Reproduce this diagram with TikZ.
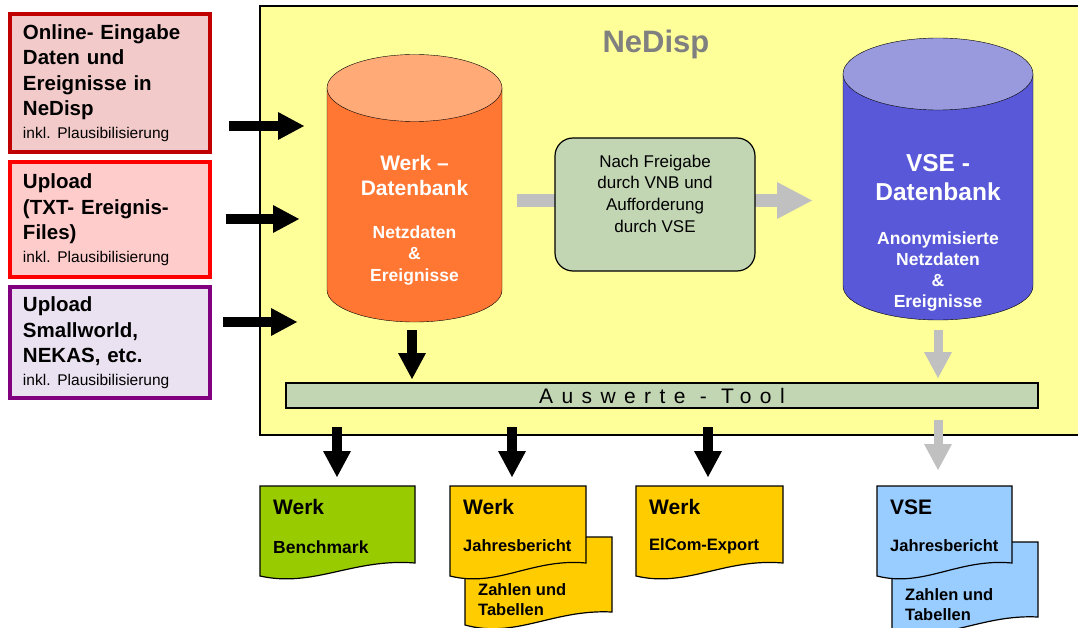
\documentclass[tikz,border=0pt]{standalone}
\usepackage{fontspec}
\setmainfont{Liberation Sans}
\usetikzlibrary{arrows.meta}
\frenchspacing

\definecolor{onlineframe}{RGB}{192,0,0}
\definecolor{onlinefill}{RGB}{242,202,202}
\definecolor{txtframe}{RGB}{255,0,0}
\definecolor{txtfill}{RGB}{255,204,204}
\definecolor{swframe}{RGB}{128,0,128}
\definecolor{swfill}{RGB}{234,226,240}
\definecolor{nedispfill}{RGB}{255,255,153}
\definecolor{werkbody}{RGB}{255,119,51}
\definecolor{werktop}{RGB}{255,170,119}
\definecolor{vsebody}{RGB}{88,88,216}
\definecolor{vsetop}{RGB}{153,153,221}
\definecolor{toolfill}{RGB}{194,214,180}
\definecolor{arrgray}{RGB}{192,192,192}
\definecolor{docgreen}{RGB}{153,204,0}
\definecolor{docyellow}{RGB}{255,204,0}
\definecolor{docblue}{RGB}{153,204,255}

\begin{document}
\begin{tikzpicture}[x=1pt,y=-1pt,
	blk/.style={line width=10pt,-{Triangle[length=26pt,width=28pt,line width=0pt]}},
	gry/.style={blk,draw=arrgray,line width=9pt},
	inbox/.style={draw,line width=4pt,minimum width=200pt,text width=174pt,inner sep=0pt,align=left,font=\fontsize{20.5}{25.5}\selectfont\bfseries},
	doc/.style={draw,line width=1.2pt},
	dochead/.style={anchor=west,inner sep=0pt,font=\fontsize{21}{25}\selectfont\bfseries},
	docsub/.style={anchor=west,inner sep=0pt,align=left,font=\fontsize{16.5}{20}\selectfont\bfseries},
	dbtext/.style={text=white,align=center,inner sep=0pt}]

	\useasboundingbox (0,0) rectangle (1078,628);

	\draw[fill=nedispfill,line width=1.5pt] (260,6) rectangle (1090,435);
	\node[text=gray,font=\fontsize{31}{35}\selectfont\bfseries] (nedisp) at (656,44) {NeDisp};

	\node[inbox,draw=onlineframe,fill=onlinefill,minimum height=138pt] (online) at (110,83) {Online- Eingabe\\Daten und\\Ereignisse in\\NeDisp\\[-3pt]{\fontsize{15.5}{19}\selectfont\mdseries inkl. Plausibilisierung}};
	\node[inbox,draw=txtframe,fill=txtfill,minimum height=115pt] (txtup) at (110,219.5) {Upload\\(TXT- Ereignis-\\Files)\\[-3pt]{\fontsize{15.5}{19}\selectfont\mdseries inkl. Plausibilisierung}};
	\node[inbox,draw=swframe,fill=swfill,minimum height=111pt] (swup) at (110,342.5) {Upload\\Smallworld,\\NEKAS, etc.\\[-3pt]{\fontsize{15.5}{19}\selectfont\mdseries inkl. Plausibilisierung}};

	\coordinate (in1) at (229,126);
	\coordinate (in2) at (226,219);
	\coordinate (in3) at (223,322);
	\draw[blk] (in1) -- (304,126);
	\draw[blk] (in2) -- (299,219);
	\draw[blk] (in3) -- (297,322);

	\draw[fill=werkbody] (327,88) -- (327,290) arc (180:0:87.5 and 32) -- (502,88) -- cycle;
	\draw[fill=werktop] (414.5,88) ellipse (87.5 and 33.5);
	\node[dbtext,font=\fontsize{21}{25}\selectfont\bfseries] (werkdb) at (414.5,175.5) {Werk --\\Datenbank};
	\node[dbtext,font=\fontsize{17.5}{21.5}\selectfont\bfseries] (werkinhalt) at (414.5,255.5) {Netzdaten\\\&\\Ereignisse};

	\draw[fill=vsebody] (843,74) -- (843,286) arc (180:0:95 and 34) -- (1033,74) -- cycle;
	\draw[fill=vsetop] (938,74) ellipse (95 and 36);
	\node[dbtext,font=\fontsize{24.5}{29}\selectfont\bfseries] (vsedb) at (938,177.5) {VSE -\\Datenbank};
	\node[dbtext,font=\fontsize{17.5}{21}\selectfont\bfseries] (vseinhalt) at (938,271.5) {Anonymisierte\\Netzdaten\\\&\\Ereignisse};

	\coordinate (fg1) at (517,200.5);
	\coordinate (fg2) at (812,200.5);
	\draw[draw=arrgray,line width=13pt,-{Triangle[length=35pt,width=37pt,line width=0pt]}] (fg1) -- (fg2);
	\node[draw,line width=1.2pt,fill=toolfill,rounded corners=18pt,minimum width=200pt,minimum height=133pt,align=center,font=\fontsize{17}{21.7}\selectfont] (freigabe) at (655,204.5) {Nach Freigabe\\durch VNB und\\Aufforderung\\durch VSE\\\mbox{}};

	\node[draw,line width=1.5pt,fill=toolfill,minimum width=752pt,minimum height=25pt,inner sep=0pt,font=\fontsize{21}{25}\selectfont\addfontfeature{LetterSpace=40}] (tool) at (662,395.5) {Auswerte - Tool};

	\coordinate (wd) at (412,330);
	\coordinate (vd) at (938,330);
	\draw[blk] (wd) -- (412,379);
	\draw[gry] (vd) -- (938,378);

	\coordinate (o1) at (337,427);
	\coordinate (o2) at (512,427);
	\coordinate (o3) at (708,427);
	\coordinate (o4) at (938,420);
	\draw[blk] (o1) -- (337,477);
	\draw[blk] (o2) -- (512,477);
	\draw[blk] (o3) -- (708,477);
	\draw[gry] (o4) -- (938,470);

	\draw[doc,fill=docgreen] (260,486) -- (415,486) -- (415,563) .. controls (353,558) and (314,588) .. (260,576) -- cycle;
	\node[dochead] (benchw) at (273,507) {Werk};
	\node[docsub,font=\fontsize{17.5}{21}\selectfont\bfseries] (benchs) at (273,547) {Benchmark};

	\draw[doc,fill=docyellow] (465,537) -- (612,537) -- (612,612) .. controls (553,609) and (516,639) .. (465,625) -- cycle;
	\draw[doc,fill=docyellow] (450,486) -- (586,486) -- (586,563) .. controls (532,558) and (498,588) .. (450,576) -- cycle;
	\node[dochead] (jbw) at (463,507) {Werk};
	\node[docsub] (jbs) at (463,546) {Jahresbericht};
	\node[docsub] (jbz) at (478,600) {Zahlen und\\Tabellen};

	\draw[doc,fill=docyellow] (636,486) -- (783,486) -- (783,563) .. controls (724,558) and (687,588) .. (636,576) -- cycle;
	\node[dochead] (elw) at (649,507) {Werk};
	\node[docsub] (els) at (649,546) {ElCom-Export};

	\draw[doc,fill=docblue] (892,542) -- (1038,542) -- (1038,617) .. controls (980,614) and (943,644) .. (892,630) -- cycle;
	\draw[doc,fill=docblue] (877,486) -- (1012,486) -- (1012,563) .. controls (958,558) and (924,588) .. (877,576) -- cycle;
	\node[dochead] (vsew) at (890,507) {VSE};
	\node[docsub] (vses) at (890,546) {Jahresbericht};
	\node[docsub] (vsez) at (905,605) {Zahlen und\\Tabellen};
\end{tikzpicture}
\end{document}
